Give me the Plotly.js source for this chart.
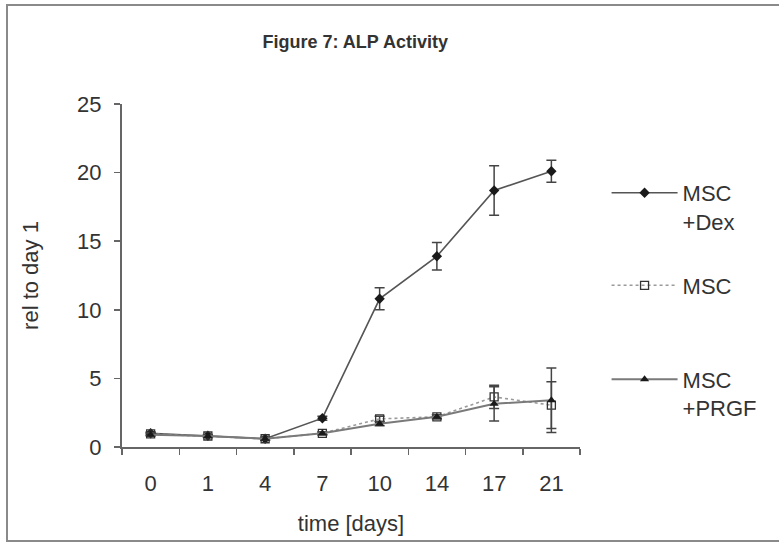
<!DOCTYPE html>
<html>
<head>
<meta charset="utf-8">
<script src="https://cdn.plot.ly/plotly-3.0.1.min.js"></script>
<style>
  html, body { margin: 0; padding: 0; background: #fff; }
  #wrap { position: relative; width: 779px; height: 544px; overflow: hidden; }
  #chart { position: absolute; left: 0; top: 0; width: 779px; height: 544px; }
  #frame { position: absolute; left: 6px; top: 4px; width: 800px; height: 538px;
           border: 2px solid #8a8a8a; pointer-events: none; box-sizing: border-box; }
</style>
</head>
<body>
<div id="wrap">
  <div id="chart"></div>
  <div id="frame"></div>
</div>
<script>
const days = ["0", "1", "4", "7", "10", "14", "17", "21"];

const dexValues = [1.0, 0.82, 0.6, 2.1, 10.8, 13.9, 18.7, 20.1];
const dexErrors = [0.1, 0.1, 0.1, 0.15, 0.8, 1.0, 1.8, 0.8];

const mscValues = [0.95, 0.8, 0.6, 1.0, 2.05, 2.2, 3.65, 3.05];
const mscErrors = [0.1, 0.1, 0.1, 0.1, 0.2, 0.15, 0.85, 1.7];

const prgfValues = [0.9, 0.8, 0.6, 1.0, 1.7, 2.2, 3.15, 3.4];
const prgfErrors = [0.1, 0.1, 0.1, 0.1, 0.15, 0.15, 1.25, 2.35];

const seriesNames = ["MSC<br>+Dex", "MSC", "MSC<br>+PRGF"];

const errStyle = (arr) => ({ type: "data", array: arr, visible: true,
  color: "#444", thickness: 1.5, width: 5 });

const traces = [
  {
    x: days, y: dexValues, name: seriesNames[0], type: "scatter", mode: "lines+markers",
    legend: "legend",
    line: { color: "#555", width: 1.6 },
    marker: { symbol: "diamond", size: 8, color: "#1a1a1a" },
    error_y: errStyle(dexErrors)
  },
  {
    x: days, y: mscValues, name: seriesNames[1], type: "scatter", mode: "lines+markers",
    legend: "legend2",
    line: { color: "#9a9a9a", width: 1.6, dash: "dot" },
    marker: { symbol: "square-open", size: 8, color: "#333", line: { width: 1.3, color: "#333" } },
    error_y: errStyle(mscErrors)
  },
  {
    x: days, y: prgfValues, name: seriesNames[2], type: "scatter", mode: "lines+markers",
    legend: "legend3",
    line: { color: "#7a7a7a", width: 2 },
    marker: { symbol: "triangle-up", size: 8, color: "#1a1a1a" },
    error_y: errStyle(prgfErrors)
  }
];

const legendBase = (y) => ({
  x: 1.058, xanchor: "left", y: y, yanchor: "top",
  font: { size: 22, color: "#333" },
  itemwidth: 66,
  valign: "top",
  bgcolor: "rgba(0,0,0,0)"
});

const layout = {
  width: 779, height: 544,
  margin: { l: 122, r: 199, t: 104, b: 97 },
  paper_bgcolor: "#fff", plot_bgcolor: "#fff",
  font: { family: "Liberation Sans, Arial, sans-serif", size: 22, color: "#333" },
  title: {
    text: "<b>Figure 7: ALP Activity</b>",
    font: { size: 18, color: "#333" },
    x: 0.456, xanchor: "center", y: 0.923, yanchor: "middle"
  },
  xaxis: {
    type: "category",
    range: [-0.5, 7.5],
    showline: true, linecolor: "#666", linewidth: 2,
    ticks: "outside", ticklen: 6, tickwidth: 1.5, tickcolor: "#666",
    tickson: "boundaries",
    ticklabelstandoff: 16,
    showgrid: false, zeroline: false,
    tickfont: { size: 22, color: "#333" },
    title: { text: "time [days]", font: { size: 22, color: "#333" }, standoff: 20 }
  },
  yaxis: {
    range: [0, 25],
    tickvals: [0, 5, 10, 15, 20, 25],
    showline: true, linecolor: "#666", linewidth: 2,
    ticks: "outside", ticklen: 6, tickwidth: 1.5, tickcolor: "#666",
    ticklabelstandoff: 8,
    showgrid: false, zeroline: false,
    tickfont: { size: 22, color: "#333" },
    title: { text: "rel to day 1", font: { size: 22, color: "#333" }, standoff: 32 }
  },
  showlegend: true,
  legend: legendBase(0.802),
  legend2: legendBase(0.532),
  legend3: legendBase(0.258)
};

Plotly.newPlot("chart", traces, layout, { displayModeBar: false, staticPlot: true });
</script>
</body>
</html>
